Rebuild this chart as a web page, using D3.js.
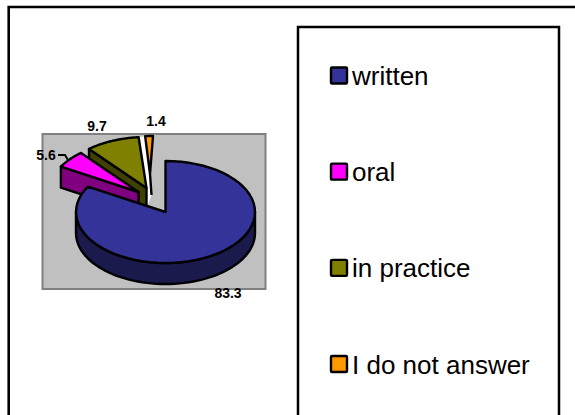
<!DOCTYPE html>
<html><head><meta charset="utf-8">
<script src="https://cdn.jsdelivr.net/npm/d3@7"></script>
<style>html,body{margin:0;padding:0;background:#fff;overflow:hidden}svg{display:block}</style>
</head><body><svg id="c" width="575" height="415"></svg>
<script>
const categories = ["written","oral","in practice","I do not answer"];
const seriesValues = [83.3,5.6,9.7,1.4];
const valueLabels = ["83.3","5.6","9.7","1.4"];
const topColors = ["#333399","#ff00ff","#808000","#ff9900"];
const sideColors = ["#1a1a4d","#800080","#404000","#000000"];

const svg = d3.select("#c");
const font = "'Liberation Sans', Arial, sans-serif";

// chart frame (right edge lies outside the window)
svg.append("path").attr("d","M8.7,417V7H577").attr("fill","#fff").attr("stroke","#000").attr("stroke-width",2.6);

// plot area
svg.append("rect").attr("x",42.5).attr("y",134).attr("width",223).attr("height",155)
  .attr("fill","#c0c0c0").attr("stroke","#808080").attr("stroke-width",2);

const cx = 165.5, cy = 212, rx = 89.5, ry = 51, depth = 21;
const explode = [[0,0],[-27,-20],[-19,-24],[-12.5,-25]];
const apexShift = [[0,0],[0,0],[0,0],[-3,-13]];
const px = d3.scaleLinear().domain([-1,1]).range([-rx,rx]);
const py = d3.scaleLinear().domain([-1,1]).range([-ry,ry]);
const pie = d3.pie().sort(null)(seriesValues);
const pt = (a,o,dz=0) => [cx+o[0]+px(Math.sin(a)), cy+o[1]-py(Math.cos(a))+dz];
const rimPts = (a0,a1,o,dz=0) => d3.range(0,61).map(i => pt(a0+(a1-a0)*i/60,o,dz));
const apexOf = i => [cx+explode[i][0]+apexShift[i][0], cy+explode[i][1]+apexShift[i][1]];
const line = d3.line();
const g = svg.append("g").attr("stroke","#000").attr("stroke-width",2.4).attr("stroke-linejoin","round");

// pale sliver between the olive and orange wedges
{
  const a = apexOf(2), b = apexOf(3);
  g.append("path").attr("fill","#fff").attr("stroke","none")
    .attr("d", line([pt(pie[2].endAngle,explode[2]),a,[a[0],a[1]+depth],[b[0]+1.5,b[1]+depth],b,pt(pie[3].startAngle,explode[3])])+"Z");
}

// back-to-front order: orange, olive, magenta, blue
[3,2,1,0].forEach(i => {
  const s = pie[i], o = explode[i], apex = apexOf(i);
  if (i === 3) {
    // thin post under the narrow wedge
    g.append("path").attr("fill","none").attr("d", line([apex,[apex[0]+1.5,apex[1]+depth]]));
  } else if (i > 0) {
    // cut face along the slice's leading edge
    const e = pt(s.startAngle,o);
    g.append("path").attr("fill",sideColors[i])
      .attr("d", line([apex,e,[e[0],e[1]+depth],[apex[0],apex[1]+depth]])+"Z");
  } else {
    // front wall of the big slice
    const a0 = Math.PI/2, a1 = 3*Math.PI/2;
    const topRim = rimPts(a0,a1,o), botRim = rimPts(a0,a1,o,depth).reverse();
    g.append("path").attr("fill",sideColors[i]).attr("d", line(topRim.concat(botRim))+"Z");
  }
  g.append("path").attr("fill",topColors[i])
    .attr("d", line([apex].concat(rimPts(s.startAngle,s.endAngle,o)))+"Z");
});

// leader line for 5.6
svg.append("path").attr("d","M58,155H65L68,160").attr("fill","none").attr("stroke","#000").attr("stroke-width",2);

// value labels
const labelPos = [[228,298],[46,159.5],[97,131],[156,126]];
svg.append("g").selectAll("text").data(valueLabels).join("text")
  .attr("x",(d,i)=>labelPos[i][0]).attr("y",(d,i)=>labelPos[i][1])
  .attr("text-anchor","middle").attr("font-family",font).attr("font-size",14).attr("font-weight","bold").attr("fill","#000")
  .text(d=>d);

// legend
svg.append("path").attr("d","M298,417V27H559V417").attr("fill","#fff").attr("stroke","#000").attr("stroke-width",2.5);
const ly = d3.scalePoint().domain(categories).range([75.5,364]);
const lg = svg.append("g").selectAll("g").data(categories).join("g").attr("transform",d=>`translate(0,${ly(d)})`);
lg.append("rect").attr("x",331).attr("y",-8).attr("width",16).attr("height",16).attr("rx",1)
  .attr("fill",(d,i)=>topColors[i]).attr("stroke","#000").attr("stroke-width",2.4);
lg.append("text").attr("x",352).attr("y",9.5).attr("font-family",font).attr("font-size",26).attr("fill","#000").text(d=>d);
</script></body></html>
